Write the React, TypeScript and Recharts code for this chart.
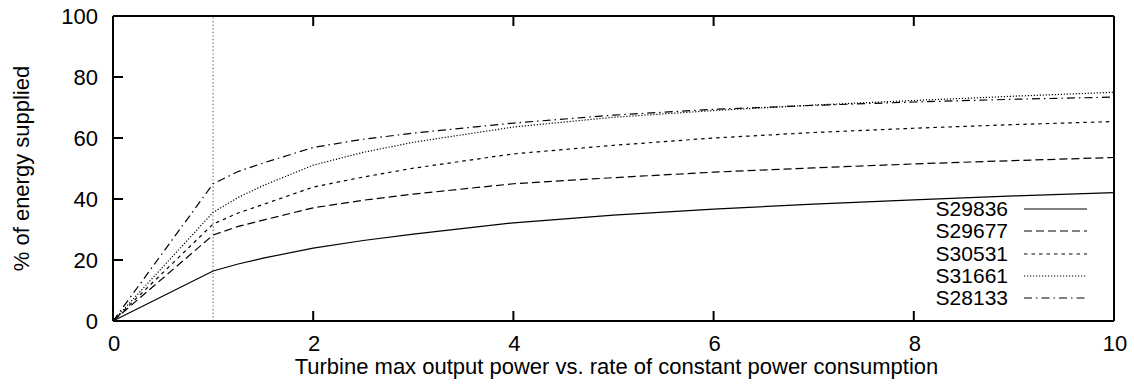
import React from "react";
import { LineChart, Line, XAxis, YAxis, ReferenceLine, Legend } from "recharts";

const xValues = [0, 1, 1.25, 1.5, 2, 2.5, 3, 4, 5, 6, 7, 8, 9, 10];
const s29836 = [0, 16.4, 18.7, 20.6, 23.9, 26.4, 28.5, 32.2, 34.7, 36.7, 38.3, 39.7, 41.0, 42.1];
const s29677 = [0, 28.2, 31.0, 33.1, 37.1, 39.6, 41.6, 45.0, 47.0, 48.8, 50.2, 51.5, 52.6, 53.6];
const s30531 = [0, 31.8, 35.4, 38.2, 43.9, 47.2, 50.1, 54.8, 57.6, 60.0, 61.8, 63.2, 64.4, 65.4];
const s31661 = [0, 35.6, 40.5, 44.4, 51.1, 55.3, 58.6, 63.6, 66.8, 69.0, 70.8, 72.3, 73.7, 75.0];
const s28133 = [0, 45.0, 49.0, 51.8, 56.9, 59.6, 61.6, 64.9, 67.5, 69.4, 70.7, 71.8, 72.7, 73.4];

const xTicks = [0, 2, 4, 6, 8, 10];
const yTicks = [0, 20, 40, 60, 80, 100];

const seriesNames = ["S29836", "S29677", "S30531", "S31661", "S28133"];
const seriesValues = [s29836, s29677, s30531, s31661, s28133];
const dashes = [undefined, "8 4", "3.5 4", "1.2 1.8", "8 4 1.5 4"];

const data = xValues.map((x, i) => {
  const row: Record<string, number> = { x };
  seriesNames.forEach((n, k) => {
    row[n] = seriesValues[k][i];
  });
  return row;
});

const FONT = "'Liberation Sans', Arial, Helvetica, sans-serif";
const FS = 22;
const TICK = 10;

const bottomTick = (props: any) => {
  const { x, y, payload } = props;
  return (
    <g>
      <rect x={x - 1} y={y - TICK} width={2} height={TICK} fill="#000" />
      <text x={x + 1} y={y + 30} textAnchor="middle" fontSize={FS} fontFamily={FONT} fill="#000">
        {payload.value}
      </text>
    </g>
  );
};

const topTick = (props: any) => {
  const { x, y } = props;
  return <rect x={x - 1} y={y} width={2} height={TICK} fill="#000" />;
};

const leftTick = (props: any) => {
  const { x, y, payload } = props;
  return (
    <g>
      <rect x={x} y={y - 1} width={TICK} height={2} fill="#000" />
      <text x={x - 15} y={y + 8} textAnchor="end" fontSize={FS} fontFamily={FONT} fill="#000">
        {payload.value}
      </text>
    </g>
  );
};

const rightTick = (props: any) => {
  const { x, y } = props;
  return <rect x={x - TICK} y={y - 1} width={TICK} height={2} fill="#000" />;
};

const renderLegend = () => (
  <div style={{ fontFamily: FONT, fontSize: 21, color: "#000" }}>
    {seriesNames.map((n, k) => (
      <div key={n} style={{ display: "flex", alignItems: "center", height: 22.3, lineHeight: "22.3px" }}>
        <span style={{ width: 95, textAlign: "right", display: "inline-block" }}>{n}</span>
        <svg width={64} height={6} style={{ marginLeft: 16 }}>
          <line x1={0} y1={3} x2={63} y2={3} stroke="#000" strokeWidth={1.2} strokeDasharray={dashes[k]} />
        </svg>
      </div>
    ))}
  </div>
);

const axisLineStyle = { stroke: "#000", strokeWidth: 2 };

export default function App() {
  return (
    <div style={{ position: "absolute", left: 0, top: 0, width: 1134, height: 390, background: "#fff" }}>
      <LineChart width={1134} height={390} data={data} margin={{ top: 15, right: 19, bottom: 68, left: 112 }}>
        <XAxis
          dataKey="x"
          type="number"
          domain={[0, 10]}
          ticks={xTicks}
          interval={0}
          height={1}
          tickSize={0}
          tickMargin={0}
          tick={bottomTick}
          axisLine={axisLineStyle}
          tickLine={false}
          label={{
            content: (p: any) => {
              const vb = p.viewBox;
              return (
                <text x={vb.x + vb.width / 2 + 3} y={vb.y + 53} textAnchor="middle" fontSize={FS} fontFamily={FONT} fill="#000">
                  Turbine max output power vs. rate of constant power consumption
                </text>
              );
            },
          }}
        />
        <XAxis
          xAxisId="top"
          orientation="top"
          dataKey="x"
          type="number"
          domain={[0, 10]}
          ticks={xTicks}
          interval={0}
          height={1}
          tickSize={0}
          tickMargin={0}
          tick={topTick}
          axisLine={axisLineStyle}
          tickLine={false}
        />
        <YAxis
          type="number"
          domain={[0, 100]}
          ticks={yTicks}
          interval={0}
          width={1}
          tickSize={0}
          tickMargin={0}
          tick={leftTick}
          axisLine={axisLineStyle}
          tickLine={false}
          label={{
            content: (p: any) => {
              const vb = p.viewBox;
              const cy = vb.y + vb.height / 2;
              return (
                <text x={29} y={cy} transform={`rotate(-90 29 ${cy})`} textAnchor="middle" fontSize={FS} fontFamily={FONT} fill="#000">
                  % of energy supplied
                </text>
              );
            },
          }}
        />
        <YAxis
          yAxisId="right"
          orientation="right"
          type="number"
          domain={[0, 100]}
          ticks={yTicks}
          interval={0}
          width={1}
          tickSize={0}
          tickMargin={0}
          tick={rightTick}
          axisLine={axisLineStyle}
          tickLine={false}
        />
        <ReferenceLine x={1} stroke="#666" strokeWidth={1.2} strokeDasharray="1.2 2.4" />
        {seriesNames.map((n, k) => (
          <Line
            key={n}
            type="linear"
            dataKey={n}
            stroke="#000"
            strokeWidth={1.2}
            strokeDasharray={dashes[k]}
            dot={false}
            activeDot={false}
            isAnimationActive={false}
          />
        ))}
        <Legend
          layout="horizontal"
          verticalAlign="middle"
          align="center"
          content={renderLegend}
          wrapperStyle={{ position: "absolute", left: 913, top: 198, width: 190, height: 112 }}
        />
      </LineChart>
    </div>
  );
}
